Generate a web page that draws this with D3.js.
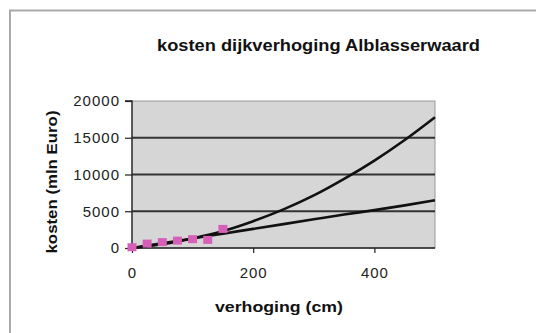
<!DOCTYPE html>
<html><head><meta charset="utf-8">
<script src="https://cdn.jsdelivr.net/npm/d3@7"></script>
<style>html,body{margin:0;padding:0;background:#fff;}svg{display:block;}</style>
</head><body>
<svg id="c" width="536" height="333"></svg>
<script>
// Data
const lineX = [0, 50, 100, 150, 200, 250, 300, 350, 400, 450, 500];
const kostenKwadratisch = [0, 500, 1300, 2300, 3650, 5250, 7150, 9400, 11900, 14700, 17800];
const kostenLineair = [0, 650, 1300, 1950, 2600, 3250, 3900, 4550, 5150, 5800, 6500];
const puntX = [0, 25, 50, 75, 100, 125, 150];
const puntKosten = [100, 600, 800, 1000, 1200, 1100, 2600];
const yTicks = [0, 5000, 10000, 15000, 20000];
const xTicks = [0, 200, 400];
const title = "kosten dijkverhoging Alblasserwaard";
const xTitle = "verhoging (cm)";
const yTitle = "kosten (mln Euro)";

const FONT = "Liberation Sans, Arial, sans-serif";
const svg = d3.select("#c");
// outer frame (top and left visible)
svg.append("line").attr("x1",9).attr("x2",536).attr("y1",10.5).attr("y2",10.5).attr("stroke","#aaa").attr("stroke-width",2);
svg.append("line").attr("x1",10).attr("x2",10).attr("y1",10).attr("y2",333).attr("stroke","#aaa").attr("stroke-width",2);

const L = 132, R = 435, T = 101, B = 248;
const x = d3.scaleLinear().domain([0, 500]).range([L, R]);
const y = d3.scaleLinear().domain([0, 20000]).range([B, T]);

svg.append("rect").attr("x",L).attr("y",T).attr("width",R-L).attr("height",B-T)
  .attr("fill","#d6d6d6").attr("stroke","#999").attr("stroke-width",1);

// gridlines
svg.append("g").selectAll("line").data(yTicks.filter(d=>d>0 && d<20000)).join("line")
  .attr("x1",L).attr("x2",R).attr("y1",d=>y(d)).attr("y2",d=>y(d))
  .attr("stroke","#333").attr("stroke-width",1.8);

// axes
const yAxis = d3.axisLeft(y).tickValues(yTicks).tickSize(7).tickPadding(6).tickFormat(d3.format("d"));
const gy = svg.append("g").attr("transform",`translate(${L},0)`).call(yAxis);
const xAxis = d3.axisBottom(x).tickValues(xTicks).tickSize(5).tickPadding(14).tickFormat(d3.format("d"));
const gx = svg.append("g").attr("transform",`translate(0,${B})`).call(xAxis);
[gy,gx].forEach(g=>{
  g.select(".domain").attr("stroke","#222").attr("stroke-width",1.3);
  g.selectAll(".tick line").attr("stroke","#222").attr("stroke-width",1.2);
  g.selectAll("text").attr("font-family",FONT).attr("font-size",15).attr("letter-spacing",1).attr("fill","#222");
});
gy.selectAll("text").attr("dx", 1);
gy.select(".domain").attr("d",`M-7,${T}H0V${B}`);
gx.select(".domain").attr("d",`M${L},0H${R}`);

// lines
const line = d3.line().x((d,i)=>x(lineX[i])).y(d=>y(d)).curve(d3.curveMonotoneX);
svg.append("path").datum(kostenKwadratisch).attr("d",line).attr("fill","none").attr("stroke","#111").attr("stroke-width",2.6);
svg.append("path").datum(kostenLineair).attr("d",line).attr("fill","none").attr("stroke","#111").attr("stroke-width",2.6);

// points
svg.append("g").selectAll("rect").data(puntKosten).join("rect")
  .attr("x",(d,i)=>x(puntX[i])-4.5).attr("y",d=>y(d)-4).attr("width",9).attr("height",8)
  .attr("fill","#d660b8");

// titles
svg.append("text").attr("x",318.5).attr("y",51).attr("text-anchor","middle")
  .attr("font-family",FONT).attr("font-weight","bold").attr("font-size",17)
  .attr("textLength",323).attr("lengthAdjust","spacingAndGlyphs")
  .attr("fill","#111").text(title);
svg.append("text").attr("x",279).attr("y",312).attr("text-anchor","middle")
  .attr("font-family",FONT).attr("font-weight","bold").attr("font-size",15)
  .attr("textLength",128).attr("lengthAdjust","spacingAndGlyphs")
  .attr("fill","#111").text(xTitle);
svg.append("text").attr("transform","translate(57,182) rotate(-90)").attr("text-anchor","middle")
  .attr("font-family",FONT).attr("font-weight","bold").attr("font-size",15)
  .attr("textLength",143).attr("lengthAdjust","spacingAndGlyphs")
  .attr("fill","#111").text(yTitle);
</script>
</body></html>
